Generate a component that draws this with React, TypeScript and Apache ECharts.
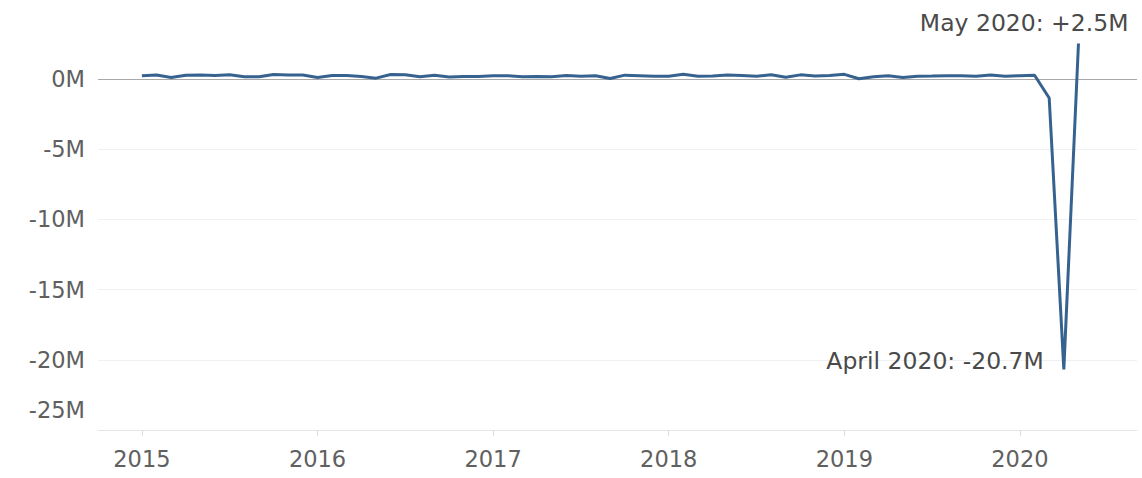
import React, { useEffect, useRef } from "react";
import * as echarts from "echarts";

// Monthly change in nonfarm payrolls, millions, Jan 2015 .. May 2020
const startYear = 2015;
const values2015 = [0.221, 0.265, 0.084, 0.251, 0.273, 0.228, 0.277, 0.15, 0.149, 0.295, 0.261, 0.26];
const values2016 = [0.083, 0.237, 0.225, 0.153, 0.043, 0.297, 0.291, 0.135, 0.249, 0.125, 0.163, 0.155];
const values2017 = [0.216, 0.219, 0.147, 0.155, 0.15, 0.229, 0.176, 0.209, 0.014, 0.256, 0.216, 0.175];
const values2018 = [0.176, 0.324, 0.182, 0.196, 0.27, 0.235, 0.178, 0.282, 0.108, 0.277, 0.196, 0.227];
const values2019 = [0.312, 0.001, 0.147, 0.21, 0.085, 0.182, 0.194, 0.207, 0.208, 0.185, 0.261, 0.184];
const values2020 = [0.214, 0.251, -1.373, -20.687, 2.509];

const yearTicks = [2015, 2016, 2017, 2018, 2019, 2020];
const yTicks = [0, -5, -10, -15, -20, -25];

const annotations = [
  { monthIndex: 64, text: "May 2020: +2.5M" },
  { monthIndex: 63, text: "April 2020: -20.7M" },
];

const allValues = [
  ...values2015,
  ...values2016,
  ...values2017,
  ...values2018,
  ...values2019,
  ...values2020,
];

const FONT = "DejaVu Sans";
const FS = 22.5;
const FS_NOTE = 23.5;

export default function App() {
  const ref = useRef<HTMLDivElement>(null);
  useEffect(() => {
    document.body.style.margin = "0";
    if (!ref.current) return;
    const chart = echarts.init(ref.current, undefined, { renderer: "svg" });
    const data = allValues.map((v, i) => [i, v]);
    const tickMonths = yearTicks.map((y) => (y - startYear) * 12);
    const mayPt = data[annotations[0].monthIndex];
    const aprPt = data[annotations[1].monthIndex];
    chart.setOption({
      animation: false,
      grid: { left: 98, right: 5, top: 8.5, bottom: 48, containLabel: false },
      xAxis: {
        type: "value",
        min: -3,
        max: 68,
        splitLine: { show: false },
        axisLine: { show: true, onZero: false, lineStyle: { color: "#e6e6e6", width: 1 } },
        axisTick: {
          show: true,
          customValues: tickMonths,
          length: 6,
          lineStyle: { color: "#dcdcdc" },
        },
        axisLabel: {
          customValues: tickMonths,
          formatter: (v: number) => String(startYear + Math.round(v / 12)),
          color: "#606060",
          fontSize: FS,
          fontFamily: FONT,
          margin: 17,
        },
      },
      yAxis: {
        type: "value",
        min: -25,
        max: 5,
        interval: 5,
        axisLine: { show: false },
        axisTick: { show: false },
        splitLine: {
          show: true,
          lineStyle: {
            color: ["#e6e6e6", "#f0f0f0", "#f0f0f0", "#f0f0f0", "#f0f0f0", "#a9a9a9", "rgba(0,0,0,0)"],
            width: 1,
          },
        },
        axisLabel: {
          margin: 13,
          color: "#606060",
          fontSize: FS,
          fontFamily: FONT,
          formatter: (v: number) => {
            if (!yTicks.includes(v)) return "";
            return v === -25 ? `{low|${v}M}` : `${v}M`;
          },
          rich: {
            low: { padding: [0, 0, 40, 0], fontSize: FS, fontFamily: FONT, color: "#606060" },
          },
        },
      },
      series: [
        {
          type: "line",
          data,
          showSymbol: false,
          symbol: "none",
          lineStyle: { color: "#36628f", width: 3 },
          markPoint: {
            symbol: "circle",
            symbolSize: 1,
            itemStyle: { color: "rgba(0,0,0,0)" },
            label: {
              show: true,
              fontFamily: FONT,
              fontSize: FS_NOTE,
              color: "#4a4a4a",
            },
            data: [
              {
                coord: mayPt,
                value: annotations[0].text,
                label: {
                  formatter: annotations[0].text,
                  position: "inside",
                  align: "right",
                  verticalAlign: "middle",
                  offset: [50, -20],
                },
              },
              {
                coord: aprPt,
                value: annotations[1].text,
                label: {
                  formatter: annotations[1].text,
                  position: "inside",
                  align: "right",
                  verticalAlign: "middle",
                  offset: [-20, -8],
                },
              },
            ],
          },
        },
      ],
    });
    return () => chart.dispose();
  }, []);
  return <div ref={ref} style={{ width: 1142, height: 478 }} />;
}
